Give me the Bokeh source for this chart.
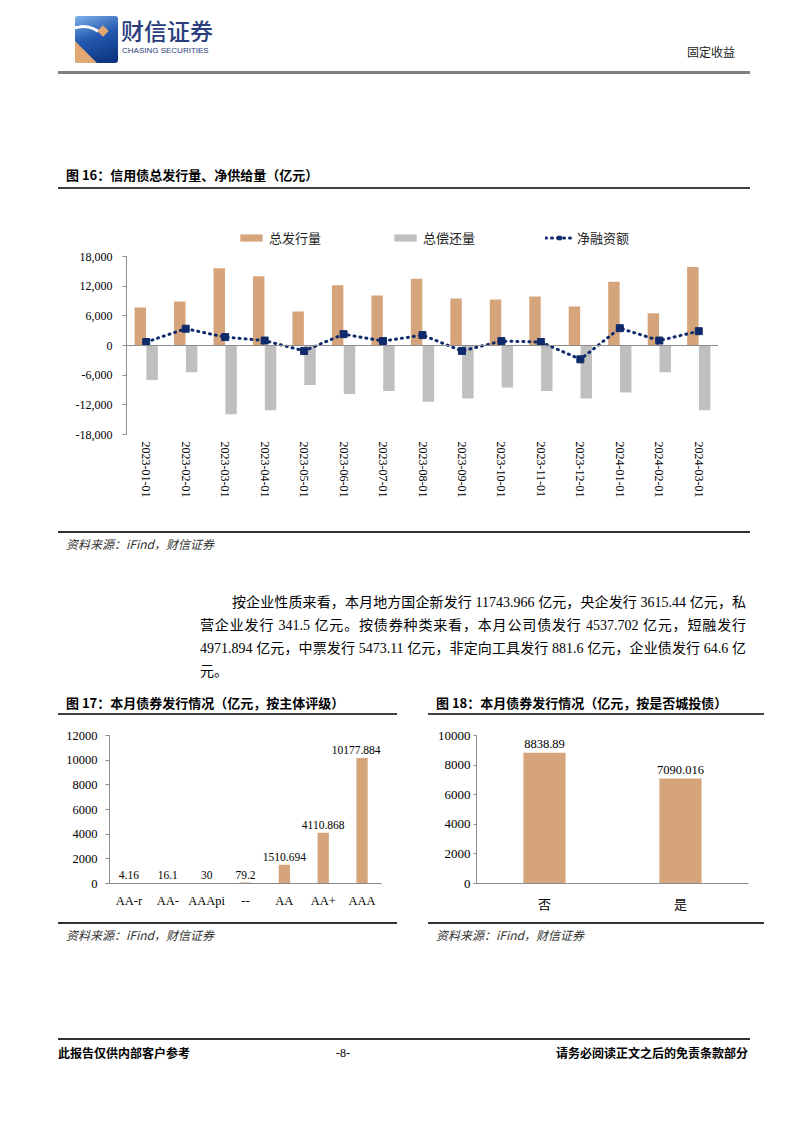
import math
from bokeh.plotting import figure
from bokeh.models import (Div, Span, Legend, LegendItem, FixedTicker, NumeralTickFormatter,
                          ColumnDataSource, FactorRange, LabelSet, Range1d)
from bokeh.layouts import column, row
from bokeh.transform import dodge
from bokeh.core.properties import value
from bokeh.embed import file_html
from bokeh.resources import INLINE

# ---------------- data ----------------
months = ["2023-01-01", "2023-02-01", "2023-03-01", "2023-04-01", "2023-05-01",
          "2023-06-01", "2023-07-01", "2023-08-01", "2023-09-01", "2023-10-01",
          "2023-11-01", "2023-12-01", "2024-01-01", "2024-02-01", "2024-03-01"]
issuance = [7700, 8900, 15600, 14000, 6900, 12200, 10100, 13500, 9500, 9300,
            9900, 7900, 12900, 6500, 15900]
repayment = [-7000, -5400, -13900, -13100, -8000, -9800, -9200, -11400, -10700, -8500,
             -9200, -10700, -9500, -5400, -13100]
net_financing = [700, 3400, 1700, 1000, -1100, 2300, 900, 2100, -1100, 900,
                 700, -2800, 3500, 1000, 2900]
y16_ticks = [-18000, -12000, -6000, 0, 6000, 12000, 18000]

ratings = ["AA-r", "AA-", "AAApi", "--", "AA", "AA+", "AAA"]
rating_values = [4.16, 16.1, 30, 79.2, 1510.694, 4110.868, 10177.884]
rating_labels = ["4.16", "16.1", "30", "79.2", "1510.694", "4110.868", "10177.884"]
y17_ticks = [0, 2000, 4000, 6000, 8000, 10000, 12000]

chengtou = ["否", "是"]
chengtou_values = [8838.89, 7090.016]
chengtou_labels = ["8838.89", "7090.016"]
y18_ticks = [0, 2000, 4000, 6000, 8000, 10000]

ORANGE = "#D6A47A"
GRAY = "#BFBFBF"
NAVY = "#0E2A6B"
AXIS = "#8C8C8C"
SERIF = "Liberation Serif"
CJK = "Noto Sans CJK SC"

# ---------------- header div ----------------
header_html = f"""
<div style="position:relative;width:802px;height:195px;font-family:'{CJK}';">
  <div style="position:absolute;left:75px;top:16px;width:43px;height:47px;border-radius:3px;
       background:linear-gradient(160deg,#7fb0ea 0%,#2459b0 45%,#0a2f7a 100%);overflow:hidden;">
    <div style="position:absolute;left:-20px;top:9px;width:56px;height:56px;border-radius:50%;
         border:3px solid #ffffff;border-color:#ffffff transparent transparent #ffffff;transform:rotate(-10deg);"></div>
    <div style="position:absolute;left:0;bottom:0;width:0;height:0;border-left:22px solid #E2A873;border-top:22px solid transparent;"></div>
    <div style="position:absolute;left:24px;top:11px;width:8px;height:8px;background:#E2A873;transform:rotate(45deg);"></div>
  </div>
  <div style="position:absolute;left:121px;top:15px;font-size:23px;line-height:30px;color:#2b3d7c;font-weight:500;">财信证券</div>
  <div style="position:absolute;left:122px;top:46px;font-size:8px;line-height:10px;color:#2b3d7c;font-family:'Liberation Sans';">CHASING SECURITIES</div>
  <div style="position:absolute;right:67px;top:44px;font-size:12px;line-height:16px;color:#222;">固定收益</div>
  <div style="position:absolute;left:58px;top:71px;width:692px;height:3px;background:#7f7f7f;"></div>
  <div style="position:absolute;left:66px;top:166px;font-size:13px;line-height:18px;font-weight:bold;color:#000;">图 16：信用债总发行量、净供给量（亿元）</div>
  <div style="position:absolute;left:58px;top:187px;width:692px;height:2px;background:#404040;"></div>
</div>
"""
header = Div(text=header_html, width=802, height=195, margin=0)

# ---------------- figure 16 ----------------
# y range runs above the top tick so the legend can sit inside the plot area;
# the visible y axis is bounded to the tick span.
src16 = ColumnDataSource(dict(month=months, issuance=issuance, repayment=repayment, net=net_financing))
p16 = figure(x_range=FactorRange(factors=months), y_range=Range1d(-18000, 24270),
             width=802, height=335, output_backend="svg", toolbar_location=None,
             min_border_left=126, min_border_right=84, min_border_top=30, min_border_bottom=96,
             outline_line_color=None, margin=0)
r_iss = p16.vbar(x=dodge("month", -0.15, range=p16.x_range), top="issuance", width=0.29,
                 source=src16, fill_color=ORANGE, line_color=None)
r_rep = p16.vbar(x=dodge("month", 0.15, range=p16.x_range), top="repayment", width=0.29,
                 source=src16, fill_color=GRAY, line_color=None)
p16.add_layout(Span(location=0, dimension="width", line_color=AXIS, line_width=1))
r_line = p16.line(x="month", y="net", source=src16, line_color=NAVY, line_width=3,
                  line_dash="1 5", line_cap="round")
r_pts = p16.scatter(x="month", y="net", source=src16, marker="square", size=7,
                    fill_color=NAVY, line_color=NAVY)
p16.xgrid.visible = False
p16.ygrid.visible = False
p16.yaxis.ticker = FixedTicker(ticks=y16_ticks)
p16.yaxis.bounds = (y16_ticks[0], y16_ticks[-1])
p16.yaxis.formatter = NumeralTickFormatter(format="0,0")
p16.yaxis.axis_line_color = AXIS
p16.yaxis.major_tick_line_color = AXIS
p16.yaxis.major_tick_out = 4
p16.yaxis.major_tick_in = 0
p16.yaxis.minor_tick_line_color = None
p16.yaxis.major_label_standoff = 10
p16.yaxis.major_label_text_font = SERIF
p16.yaxis.major_label_text_font_size = "12px"
p16.yaxis.major_label_text_color = "#000000"
p16.xaxis.axis_line_color = None
p16.xaxis.major_tick_line_color = None
p16.xaxis.major_tick_out = 0
p16.xaxis.major_label_orientation = -math.pi / 2
p16.xaxis.major_label_standoff = 7
p16.xaxis.major_label_text_font = SERIF
p16.xaxis.major_label_text_font_size = "12px"
p16.xaxis.major_label_text_color = "#000000"

legend = Legend(items=[LegendItem(label="总发行量", renderers=[r_iss]),
                       LegendItem(label="总偿还量", renderers=[r_rep]),
                       LegendItem(label="净融资额", renderers=[r_line, r_pts])],
                orientation="horizontal", location=(111, 187),
                label_text_font=CJK, label_text_font_size="13px", label_text_color="#222222",
                glyph_width=28, glyph_height=9, label_standoff=4, spacing=70,
                padding=0, margin=0, border_line_color=None, background_fill_alpha=0)
p16.add_layout(legend)

# ---------------- middle div ----------------
para_style = f"font-family:'{SERIF}','{CJK}';font-size:14px;line-height:23px;color:#000;"
mid_html = f"""
<div style="position:relative;width:802px;height:185px;font-family:'{CJK}';">
  <div style="position:absolute;left:58px;top:1px;width:692px;height:2px;background:#333;"></div>
  <div style="position:absolute;left:66px;top:6px;font-size:12px;line-height:16px;font-style:italic;color:#333;">资料来源：iFind，财信证券</div>
  <div style="position:absolute;left:200px;top:61px;width:546px;{para_style}">
    <div style="text-align:justify;text-align-last:justify;padding-left:32px;">按企业性质来看，本月地方国企新发行 11743.966 亿元，央企发行 3615.44 亿元，私</div>
    <div style="text-align:justify;text-align-last:justify;">营企业发行 341.5 亿元。按债券种类来看，本月公司债发行 4537.702 亿元，短融发行</div>
    <div style="text-align:justify;text-align-last:justify;">4971.894 亿元，中票发行 5473.11 亿元，非定向工具发行 881.6 亿元，企业债发行 64.6 亿</div>
    <div style="text-align:left;">元。</div>
  </div>
  <div style="position:absolute;left:66px;top:164px;font-size:13px;line-height:18px;font-weight:bold;color:#000;">图 17：本月债券发行情况（亿元，按主体评级）</div>
  <div style="position:absolute;left:436px;top:164px;font-size:13px;line-height:18px;font-weight:bold;color:#000;">图 18：本月债券发行情况（亿元，按是否城投债）</div>
  <div style="position:absolute;left:58px;top:183px;width:339px;height:2px;background:#404040;"></div>
  <div style="position:absolute;left:428px;top:183px;width:336px;height:2px;background:#404040;"></div>
</div>
"""
mid = Div(text=mid_html, width=802, height=185, margin=0)


def style_axes(p, ticks, ysize, tick_out, standoff, xsize, xfont):
    p.xgrid.visible = False
    p.ygrid.visible = False
    p.yaxis.ticker = FixedTicker(ticks=ticks)
    p.yaxis.axis_line_color = AXIS
    p.yaxis.major_tick_line_color = AXIS
    p.yaxis.major_tick_out = tick_out
    p.yaxis.major_tick_in = 0
    p.yaxis.minor_tick_line_color = None
    p.yaxis.major_label_standoff = standoff
    p.yaxis.major_label_text_font = SERIF
    p.yaxis.major_label_text_font_size = ysize
    p.yaxis.major_label_text_color = "#000000"
    p.xaxis.axis_line_color = AXIS
    p.xaxis.major_tick_line_color = None
    p.xaxis.major_tick_out = 0
    p.xaxis.major_label_standoff = 10
    p.xaxis.major_label_text_font = xfont
    p.xaxis.major_label_text_font_size = xsize
    p.xaxis.major_label_text_color = "#000000"


# ---------------- figure 17 ----------------
# the widest label is nudged left so it stays inside the plot area (as in the reference)
label_nudge17 = [0, 0, 0, 0, 0, 0, -6]
src17 = ColumnDataSource(dict(g=ratings, v=rating_values, lbl=rating_labels, dx=label_nudge17))
p17 = figure(x_range=FactorRange(factors=ratings), y_range=Range1d(0, 12000),
             width=415, height=200, output_backend="svg", toolbar_location=None,
             min_border_left=109, min_border_right=34, min_border_top=19, min_border_bottom=26,
             outline_line_color=None, margin=0)
p17.vbar(x="g", top="v", width=0.29, source=src17, fill_color=ORANGE, line_color=None)
p17.add_layout(LabelSet(x="g", y="v", text="lbl", source=src17, text_align="center",
                        text_baseline="bottom", y_offset=4, x_offset="dx", text_font=value(SERIF),
                        text_font_size=value("11.5px"), text_color="#000000"))
style_axes(p17, y17_ticks, "12.5px", 4, 8, "12.5px", SERIF)

# ---------------- figure 18 ----------------
src18 = ColumnDataSource(dict(g=chengtou, v=chengtou_values, lbl=chengtou_labels))
p18 = figure(x_range=FactorRange(factors=chengtou), y_range=Range1d(0, 10000),
             width=387, height=200, output_backend="svg", toolbar_location=None,
             min_border_left=61, min_border_right=54, min_border_top=20, min_border_bottom=27,
             outline_line_color=None, margin=0)
p18.vbar(x="g", top="v", width=0.31, source=src18, fill_color=ORANGE, line_color=None)
p18.add_layout(LabelSet(x="g", y="v", text="lbl", source=src18, text_align="center",
                        text_baseline="bottom", y_offset=5, text_font=value(SERIF),
                        text_font_size=value("12.5px"), text_color="#000000"))
style_axes(p18, y18_ticks, "13px", 3, 3, "13px", CJK)

# ---------------- bottom div ----------------
bot_html = f"""
<div style="position:relative;width:802px;height:218px;font-family:'{CJK}';">
  <div style="position:absolute;left:58px;top:7px;width:339px;height:2px;background:#333;"></div>
  <div style="position:absolute;left:428px;top:7px;width:336px;height:2px;background:#333;"></div>
  <div style="position:absolute;left:66px;top:12px;font-size:12px;line-height:16px;font-style:italic;color:#333;">资料来源：iFind，财信证券</div>
  <div style="position:absolute;left:436px;top:12px;font-size:12px;line-height:16px;font-style:italic;color:#333;">资料来源：iFind，财信证券</div>
  <div style="position:absolute;left:58px;top:123px;width:692px;height:2px;background:#333;"></div>
  <div style="position:absolute;left:58px;top:129px;font-size:12px;line-height:18px;font-weight:bold;color:#000;">此报告仅供内部客户参考</div>
  <div style="position:absolute;left:323px;width:40px;text-align:center;top:129px;font-size:12px;line-height:18px;color:#000;font-family:'{SERIF}';">-8-</div>
  <div style="position:absolute;right:54px;top:129px;font-size:12px;line-height:18px;font-weight:bold;color:#000;">请务必阅读正文之后的免责条款部分</div>
</div>
"""
bot = Div(text=bot_html, width=802, height=218, margin=0)

page = column(header, p16, mid, row(p17, p18, spacing=0), bot, spacing=0)
open("out.html", "w").write(file_html(page, INLINE))
